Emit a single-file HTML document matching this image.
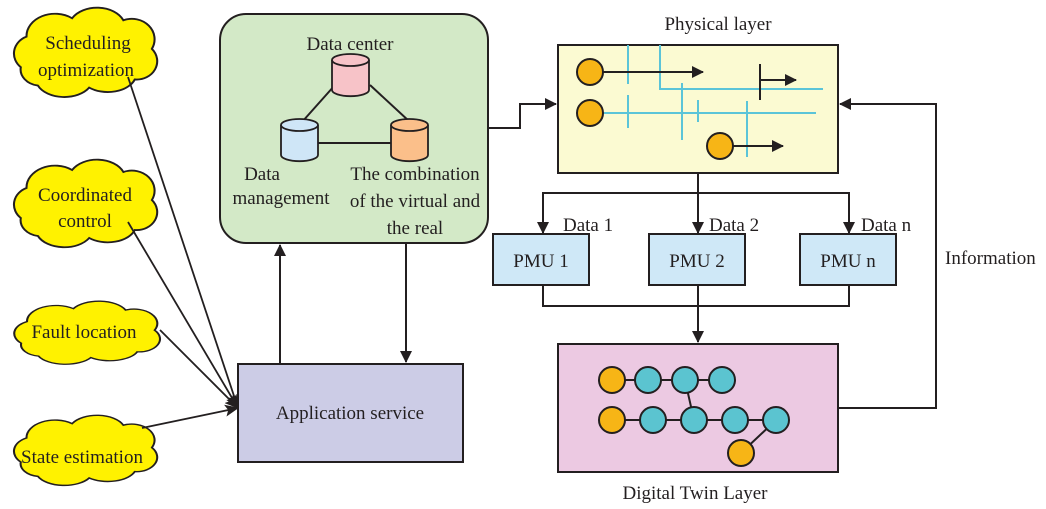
<!DOCTYPE html>
<html><head><meta charset="utf-8"><style>
html,body{margin:0;padding:0;background:#fff}
svg{display:block}
text{font-family:"Liberation Serif",serif;fill:#231f20}
</style></head><body>
<svg width="1046" height="509" viewBox="0 0 1046 509" xmlns="http://www.w3.org/2000/svg">
<defs>
<marker id="a" markerWidth="12" markerHeight="12" refX="11" refY="6" orient="auto" markerUnits="userSpaceOnUse"><path d="M0,0 L12,6 L0,12 z" fill="#231f20"/></marker>
<marker id="b" markerWidth="14" markerHeight="12" refX="13" refY="6" orient="auto" markerUnits="userSpaceOnUse"><path d="M0,0 L14,6 L0,12 L3,6 z" fill="#231f20"/></marker>
<path id="cloud" d="M20,60 a18,18 0 0,1 5,-30 a25,22 0 0,1 40,-18 a25,20 0 0,1 45,2 a20,20 0 0,1 25,28 a18,18 0 0,1 -15,30 a25,18 0 0,1 -40,8 a25,18 0 0,1 -45,-2 a18,16 0 0,1 -15,-18 z" fill="#fff200" stroke="#231f20" stroke-width="1.8"/>
</defs>

<g transform="translate(-2,6) scale(1.14,1.02)"><use href="#cloud"/></g>
<g transform="translate(-2,158) scale(1.14,1.0)"><use href="#cloud"/></g>
<g transform="translate(-2,300) scale(1.16,0.72)"><use href="#cloud"/></g>
<g transform="translate(-2,414) scale(1.14,0.8)"><use href="#cloud"/></g>
<text x="88" y="49" font-size="19" text-anchor="middle">Scheduling</text>
<text x="86" y="76" font-size="19" text-anchor="middle">optimization</text>
<text x="85" y="201" font-size="19" text-anchor="middle">Coordinated</text>
<text x="85" y="227" font-size="19" text-anchor="middle">control</text>
<text x="84" y="338" font-size="19" text-anchor="middle">Fault location</text>
<text x="82" y="463" font-size="19" text-anchor="middle">State estimation</text>

<g stroke="#231f20" stroke-width="1.8" fill="none">
<line x1="128" y1="77" x2="238" y2="408" marker-end="url(#b)"/>
<line x1="128" y1="222" x2="238" y2="408" marker-end="url(#b)"/>
<line x1="160" y1="330" x2="238" y2="408" marker-end="url(#b)"/>
<line x1="142" y1="428" x2="238" y2="408" marker-end="url(#b)"/>
</g>

<rect x="220" y="14" width="268" height="229" rx="26" fill="#d3e9c7" stroke="#231f20" stroke-width="2"/>
<text x="350" y="50" font-size="19" text-anchor="middle">Data center</text>
<g stroke="#231f20" stroke-width="2">
<line x1="335" y1="85" x2="302" y2="122"/>
<line x1="370" y1="85" x2="410" y2="122"/>
<line x1="318" y1="143" x2="392" y2="143"/>
</g>
<g stroke="#231f20" stroke-width="1.8">
<path d="M332,60 v30 a18,6 0 0,0 37,0 v-30" fill="#f7c3c8"/>
<ellipse cx="350.5" cy="60" rx="18.5" ry="6" fill="#f7c3c8"/>
<path d="M281,125 v30 a18,6 0 0,0 37,0 v-30" fill="#cfe6f7"/>
<ellipse cx="299.5" cy="125" rx="18.5" ry="6" fill="#cfe6f7"/>
<path d="M391,125 v30 a18,6 0 0,0 37,0 v-30" fill="#fbbf8a"/>
<ellipse cx="409.5" cy="125" rx="18.5" ry="6" fill="#fbbf8a"/>
</g>
<text x="262" y="180" font-size="19" text-anchor="middle">Data</text>
<text x="281" y="204" font-size="19" text-anchor="middle">management</text>
<text x="415" y="180" font-size="19" text-anchor="middle">The combination</text>
<text x="415" y="207" font-size="19" text-anchor="middle">of the virtual and</text>
<text x="415" y="234" font-size="19" text-anchor="middle">the real</text>

<rect x="238" y="364" width="225" height="98" fill="#cccce6" stroke="#231f20" stroke-width="2"/>
<text x="350" y="419" font-size="19" text-anchor="middle">Application service</text>
<g stroke="#231f20" stroke-width="2" fill="none">
<line x1="280" y1="364" x2="280" y2="245" marker-end="url(#a)"/>
<line x1="406" y1="243" x2="406" y2="362" marker-end="url(#a)"/>
<polyline points="488,128 520,128 520,104 556,104" marker-end="url(#a)"/>
</g>

<text x="718" y="30" font-size="19" text-anchor="middle">Physical layer</text>
<rect x="558" y="45" width="280" height="128" fill="#fbfad2" stroke="#231f20" stroke-width="2"/>
<g stroke="#5bc4d8" stroke-width="2">
<line x1="628" y1="45" x2="628" y2="84"/><line x1="628" y1="95" x2="628" y2="128"/>
<line x1="660" y1="45" x2="660" y2="90"/>
<line x1="682" y1="83" x2="682" y2="140"/>
<line x1="698" y1="100" x2="698" y2="122"/>
<line x1="747" y1="101" x2="747" y2="157"/>
<line x1="660" y1="89" x2="823" y2="89"/>
<line x1="603" y1="113" x2="816" y2="113"/>
</g>
<g stroke="#231f20" stroke-width="2" fill="none">
<line x1="603" y1="72" x2="703" y2="72" marker-end="url(#a)"/>
<line x1="760" y1="64" x2="760" y2="100"/>
<line x1="760" y1="80" x2="796" y2="80" marker-end="url(#a)"/>
<line x1="733" y1="146" x2="783" y2="146" marker-end="url(#a)"/>
</g>
<g fill="#f7b516" stroke="#231f20" stroke-width="2">
<circle cx="590" cy="72" r="13"/><circle cx="590" cy="113" r="13"/><circle cx="720" cy="146" r="13"/>
</g>

<g stroke="#231f20" stroke-width="2" fill="none">
<line x1="698" y1="173" x2="698" y2="193"/>
<polyline points="543,232 543,193 849,193 849,232"/>
<line x1="543" y1="225" x2="543" y2="233" marker-end="url(#a)"/>
<line x1="698" y1="193" x2="698" y2="233" marker-end="url(#a)"/>
<line x1="849" y1="225" x2="849" y2="233" marker-end="url(#a)"/>
<polyline points="543,285 543,306 849,306 849,285"/>
<line x1="698" y1="285" x2="698" y2="342" marker-end="url(#a)"/>
<polyline points="838,408 936,408 936,104 840,104" marker-end="url(#a)"/>
</g>
<text x="563" y="231" font-size="19">Data 1</text>
<text x="709" y="231" font-size="19">Data 2</text>
<text x="861" y="231" font-size="19">Data n</text>
<g fill="#cfe8f7" stroke="#231f20" stroke-width="2">
<rect x="493" y="234" width="96" height="51"/>
<rect x="649" y="234" width="96" height="51"/>
<rect x="800" y="234" width="96" height="51"/>
</g>
<text x="541" y="267" font-size="19" text-anchor="middle">PMU 1</text>
<text x="697" y="267" font-size="19" text-anchor="middle">PMU 2</text>
<text x="848" y="267" font-size="19" text-anchor="middle">PMU n</text>
<text x="945" y="264" font-size="19">Information</text>

<rect x="558" y="344" width="280" height="128" fill="#ecc9e2" stroke="#231f20" stroke-width="2"/>
<g stroke="#231f20" stroke-width="2">
<line x1="612" y1="380" x2="722" y2="380"/>
<line x1="612" y1="420" x2="776" y2="420"/>
<line x1="685" y1="380" x2="694" y2="420"/>
<line x1="776" y1="420" x2="741" y2="453"/>
</g>
<g stroke="#231f20" stroke-width="2">
<circle cx="612" cy="380" r="13" fill="#f7b516"/>
<circle cx="648" cy="380" r="13" fill="#5bc4d0"/>
<circle cx="685" cy="380" r="13" fill="#5bc4d0"/>
<circle cx="722" cy="380" r="13" fill="#5bc4d0"/>
<circle cx="612" cy="420" r="13" fill="#f7b516"/>
<circle cx="653" cy="420" r="13" fill="#5bc4d0"/>
<circle cx="694" cy="420" r="13" fill="#5bc4d0"/>
<circle cx="735" cy="420" r="13" fill="#5bc4d0"/>
<circle cx="776" cy="420" r="13" fill="#5bc4d0"/>
<circle cx="741" cy="453" r="13" fill="#f7b516"/>
</g>
<text x="695" y="499" font-size="19" text-anchor="middle">Digital Twin Layer</text>
</svg>
</body></html>
